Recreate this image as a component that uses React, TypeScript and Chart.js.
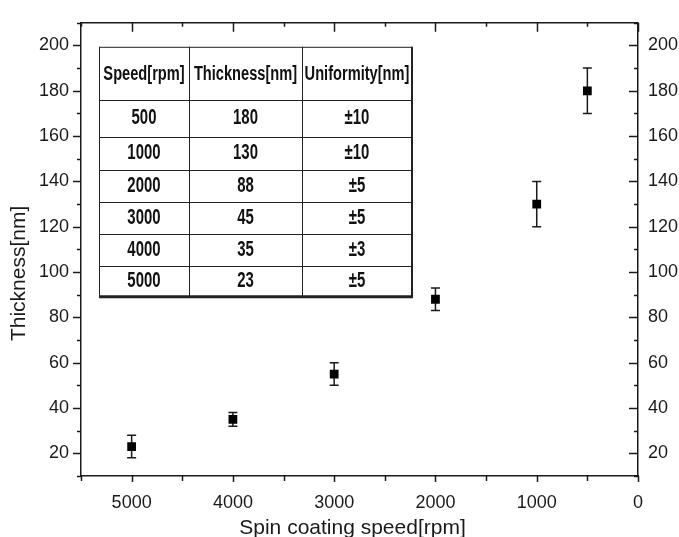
import React, { useEffect, useRef } from 'react';
import { Chart, registerables } from 'chart.js';

Chart.register(...registerables);

// ---- data ----
const speeds = [500, 1000, 2000, 3000, 4000, 5000];
const thickness = [180, 130, 88, 55, 35, 23];
const errors = [10, 10, 5, 5, 3, 5];

const tableHeader = ['Speed[rpm]', 'Thickness[nm]', 'Uniformity[nm]'];
const tableSpeed = ['500', '1000', '2000', '3000', '4000', '5000'];
const tableThickness = ['180', '130', '88', '45', '35', '23'];
const tableUniformity = ['±10', '±10', '±5', '±5', '±3', '±5'];

const xTitle = 'Spin coating speed[rpm]';
const yTitle = 'Thickness[nm]';

const X_MIN = 0;
const X_MAX = 5500;
const Y_MIN = 10;
const Y_MAX = 210;

const FONT = '"Liberation Sans", Arial, sans-serif';
const INK = '#1a1a1a';

const errorBarPlugin = {
  id: 'errorBars',
  beforeDatasetsDraw(chart: any) {
    const { ctx } = chart;
    const xs = chart.scales.x;
    const ys = chart.scales.y;
    ctx.save();
    ctx.strokeStyle = INK;
    ctx.lineWidth = 1.5;
    speeds.forEach((s, i) => {
      const px = xs.getPixelForValue(s);
      const pt = ys.getPixelForValue(thickness[i] + errors[i]);
      const pb = ys.getPixelForValue(thickness[i] - errors[i]);
      ctx.beginPath();
      ctx.moveTo(px, pt);
      ctx.lineTo(px, pb);
      ctx.moveTo(px - 4.5, pt);
      ctx.lineTo(px + 4.5, pt);
      ctx.moveTo(px - 4.5, pb);
      ctx.lineTo(px + 4.5, pb);
      ctx.stroke();
    });
    ctx.restore();
  },
};

const frameTicksPlugin = {
  id: 'frameTicks',
  afterDraw(chart: any) {
    const { ctx, chartArea } = chart;
    const { left, right, top, bottom } = chartArea;
    const xs = chart.scales.x;
    const ys = chart.scales.y;
    ctx.save();
    ctx.strokeStyle = INK;
    ctx.lineWidth = 1.5;
    // top border
    ctx.beginPath();
    ctx.moveTo(left, top);
    ctx.lineTo(right, top);
    ctx.stroke();
    ctx.beginPath();
    xs.ticks.forEach((t: any) => {
      const v = t.value;
      const major = v % 1000 === 0;
      const px = Math.round(xs.getPixelForValue(v)) + 0.5;
      // bottom, outward
      ctx.moveTo(px, bottom);
      ctx.lineTo(px, bottom + (major ? 6 : 5));
      // top, inward
      ctx.moveTo(px, top);
      ctx.lineTo(px, top + (major ? 9 : 4));
    });
    ys.ticks.forEach((t: any) => {
      const v = t.value;
      const major = v % 20 === 0;
      const py = Math.round(ys.getPixelForValue(v)) + 0.5;
      // left, outward
      ctx.moveTo(left, py);
      ctx.lineTo(left - (major ? 8 : 4), py);
      // right, inward
      ctx.moveTo(right, py);
      ctx.lineTo(right - (major ? 9 : 4), py);
    });
    ctx.stroke();

    // axis titles
    ctx.fillStyle = INK;
    ctx.font = `21px ${FONT}`;
    ctx.textAlign = 'center';
    ctx.textBaseline = 'alphabetic';
    ctx.fillText(xTitle, (left + right) / 2 - 7, 534);
    ctx.save();
    ctx.translate(25, (top + bottom) / 2 + 24);
    ctx.rotate(-Math.PI / 2);
    ctx.fillText(yTitle, 0, 0);
    ctx.restore();
    ctx.restore();
  },
};

const tablePlugin = {
  id: 'tableOverlay',
  afterDraw(chart: any) {
    const { ctx, chartArea } = chart;
    const tLeft = chartArea.left + 18;
    const tTop = chartArea.top + 24;
    const colW = [90, 113, 110];
    const rowH = [53, 37, 33, 32, 32, 32, 31];
    const totalW = colW.reduce((a, b) => a + b, 0);
    const totalH = rowH.reduce((a, b) => a + b, 0);

    ctx.save();
    ctx.fillStyle = '#ffffff';
    ctx.fillRect(tLeft, tTop, totalW, totalH);
    ctx.strokeStyle = '#222';
    ctx.lineWidth = 1;

    // horizontal lines
    let y = tTop;
    ctx.beginPath();
    ctx.moveTo(tLeft, tTop + 0.5);
    ctx.lineTo(tLeft + totalW, tTop + 0.5);
    rowH.slice(0, -1).forEach((h) => {
      y += h;
      ctx.moveTo(tLeft, Math.round(y) + 0.5);
      ctx.lineTo(tLeft + totalW, Math.round(y) + 0.5);
    });
    // vertical lines
    let x = tLeft;
    ctx.moveTo(tLeft + 0.5, tTop);
    ctx.lineTo(tLeft + 0.5, tTop + totalH);
    colW.slice(0, -1).forEach((w) => {
      x += w;
      ctx.moveTo(Math.round(x) + 0.5, tTop);
      ctx.lineTo(Math.round(x) + 0.5, tTop + totalH);
    });
    ctx.stroke();
    // thicker right & bottom edges
    ctx.lineWidth = 2;
    ctx.beginPath();
    ctx.moveTo(tLeft + totalW, tTop);
    ctx.lineTo(tLeft + totalW, tTop + totalH);
    ctx.stroke();
    ctx.lineWidth = 3;
    ctx.beginPath();
    ctx.moveTo(tLeft, tTop + totalH);
    ctx.lineTo(tLeft + totalW + 1, tTop + totalH);
    ctx.stroke();

    const drawText = (txt: string, cx: number, cy: number, size: number, sx: number) => {
      ctx.save();
      ctx.translate(cx, cy);
      ctx.scale(sx, 1);
      ctx.font = `bold ${size}px ${FONT}`;
      ctx.fillStyle = '#111';
      ctx.textAlign = 'center';
      ctx.textBaseline = 'middle';
      ctx.fillText(txt, 0, 0);
      ctx.restore();
    };

    const colCenters: number[] = [];
    let cx = tLeft;
    colW.forEach((w) => {
      colCenters.push(cx + w / 2);
      cx += w;
    });

    tableHeader.forEach((h, c) => drawText(h, colCenters[c], tTop + rowH[0] / 2 + 1, 19.5, 0.75));
    const columns = [tableSpeed, tableThickness, tableUniformity];
    let ry = tTop + rowH[0];
    for (let r = 0; r < tableSpeed.length; r++) {
      const h = rowH[r + 1];
      columns.forEach((col, c) => drawText(col[r], colCenters[c], ry + h / 2, 22, 0.68));
      ry += h;
    }
    ctx.restore();
  },
};

export default function App() {
  const canvasRef = useRef<HTMLCanvasElement | null>(null);

  useEffect(() => {
    const canvas = canvasRef.current;
    if (!canvas) return;
    const tickFont = { family: FONT, size: 18 };
    const chart = new Chart(canvas, {
      type: 'scatter',
      data: {
        datasets: [
          {
            label: 'Thickness',
            data: speeds.map((s, i) => ({ x: s, y: thickness[i] })),
            pointStyle: 'rect',
            pointRadius: 6.2,
            pointBackgroundColor: '#000',
            pointBorderColor: '#000',
            pointBorderWidth: 0,
            showLine: false,
          },
        ],
      },
      options: {
        responsive: false,
        animation: false,
        events: [],
        layout: { padding: { top: 13, left: 0, right: 0, bottom: 0 } },
        plugins: {
          legend: { display: false },
          tooltip: { enabled: false },
        },
        scales: {
          x: {
            type: 'linear',
            reverse: true,
            min: X_MIN,
            max: X_MAX,
            afterFit: (s: any) => {
              s.height = 61;
            },
            grid: { drawOnChartArea: false, drawTicks: false },
            border: { display: true, color: INK, width: 1.5 },
            ticks: {
              stepSize: 500,
              autoSkip: false,
              maxRotation: 0,
              padding: 16,
              color: INK,
              font: tickFont,
              callback: (v: any) => (Number(v) % 1000 === 0 ? String(v) : ''),
            },
          },
          y: {
            type: 'linear',
            position: 'left',
            min: Y_MIN,
            max: Y_MAX,
            afterFit: (s: any) => {
              s.width = 81;
            },
            grid: { drawOnChartArea: false, drawTicks: false },
            border: { display: true, color: INK, width: 1.5 },
            ticks: {
              stepSize: 10,
              autoSkip: false,
              padding: 12,
              color: INK,
              font: tickFont,
              callback: (v: any) => (Number(v) % 20 === 0 ? String(v) : ''),
            },
          },
          y2: {
            type: 'linear',
            position: 'right',
            min: Y_MIN,
            max: Y_MAX,
            afterFit: (s: any) => {
              s.width = 41;
            },
            grid: { drawOnChartArea: false, drawTicks: false },
            border: { display: true, color: INK, width: 1.5 },
            ticks: {
              stepSize: 10,
              autoSkip: false,
              padding: 10,
              color: INK,
              font: tickFont,
              callback: (v: any) => (Number(v) % 20 === 0 ? String(v) : ''),
            },
          },
        },
      },
      plugins: [errorBarPlugin, frameTicksPlugin, tablePlugin],
    });
    return () => chart.destroy();
  }, []);

  return (
    <div style={{ position: 'absolute', left: 0, top: 0, width: 679, height: 537, background: '#fff' }}>
      <canvas ref={canvasRef} width={679} height={537} style={{ display: 'block' }} />
    </div>
  );
}
